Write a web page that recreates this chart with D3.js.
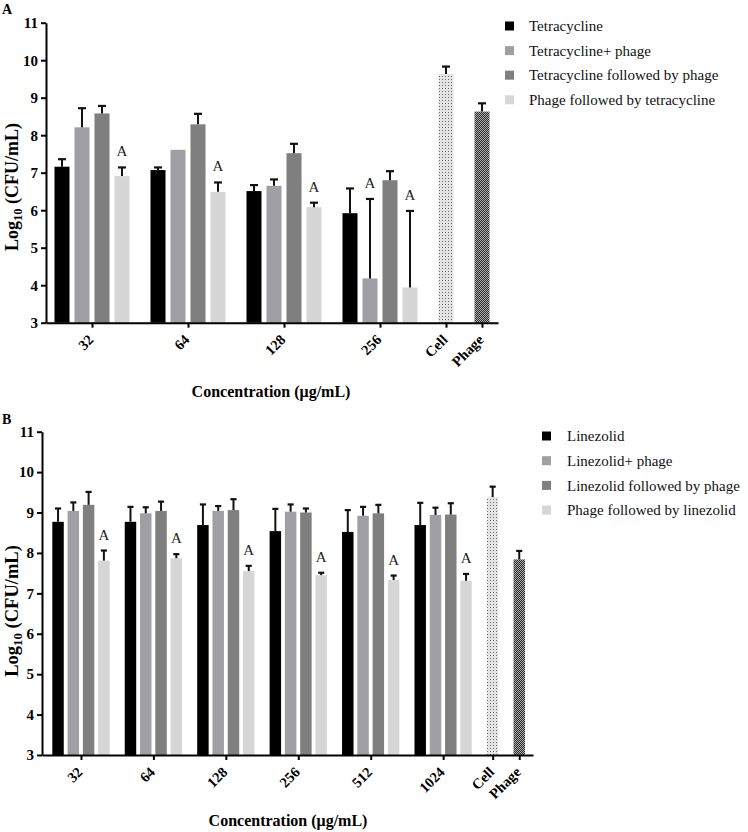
<!DOCTYPE html>
<html><head><meta charset="utf-8">
<script src="https://cdn.jsdelivr.net/npm/d3@7"></script>
<style>
body{margin:0;background:#fff}
svg{display:block}
text{font-family:"Liberation Serif","Times New Roman",serif}
</style>
</head><body>
<svg id="c" width="748" height="832"></svg>
<script>
// ---------- data ----------
const yTicks = [3,4,5,6,7,8,9,10,11];
const xTitle = "Concentration (\u03bcg/mL)";
const controls = ["Cell","Phage"];

// Panel A : tetracycline
const concA = ["32","64","128","256"];
const seriesA = ["Tetracycline","Tetracycline+ phage","Tetracycline followed by phage","Phage followed by tetracycline"];
const tetA            = [7.16, 7.07, 6.51, 5.92];
const tetAErr         = [0.20, 0.07, 0.16, 0.66];
const tetPhageA       = [8.21, 7.61, 6.65, 4.18];
const tetPhageAErr    = [0.51, 0.00, 0.17, 2.12];
const tetThenPhageA   = [8.58, 8.29, 7.52, 6.80];
const tetThenPhageAErr= [0.20, 0.28, 0.25, 0.24];
const phageThenTetA   = [6.91, 6.49, 6.08, 3.94];
const phageThenTetAErr= [0.23, 0.25, 0.12, 2.04];
const sigA = [["","","",""],["","","","A"],["","","",""],["A","A","A","A"]];
const controlA    = [9.63, 8.63];
const controlAErr = [0.20, 0.22];

// Panel B : linezolid
const concB = ["32","64","128","256","512","1024"];
const seriesB = ["Linezolid","Linezolid+ phage","Linezolid followed by phage","Phage followed by linezolid"];
const linB             = [8.77, 8.77, 8.69, 8.54, 8.52, 8.69];
const linBErr          = [0.33, 0.37, 0.51, 0.55, 0.54, 0.55];
const linPhageB        = [9.04, 8.98, 9.04, 9.02, 8.92, 8.94];
const linPhageBErr     = [0.21, 0.15, 0.12, 0.18, 0.22, 0.18];
const linThenPhageB    = [9.19, 9.04, 9.06, 9.00, 8.98, 8.95];
const linThenPhageBErr = [0.32, 0.23, 0.27, 0.10, 0.21, 0.28];
const phageThenLinB    = [7.81, 7.87, 7.55, 7.45, 7.33, 7.31];
const phageThenLinBErr = [0.25, 0.10, 0.13, 0.06, 0.11, 0.17];
const sigB = [["","","","","",""],["","","","","",""],["","","","","",""],["A","A","A","A","A","A"]];
const controlB    = [9.38, 7.84];
const controlBErr = [0.26, 0.21];

// ---------- drawing ----------
const colors = ["#000000","#a0a0a4","#7f7f7f","#d6d6d6"];
const svg = d3.select("#c");
const defs = svg.append("defs");
// dotted pattern (Cell)
const pc = defs.append("pattern").attr("id","dots").attr("patternUnits","userSpaceOnUse")
  .attr("width",3).attr("height",3);
pc.append("rect").attr("width",3).attr("height",3).attr("fill","#e4e4e4");
pc.append("rect").attr("x",1).attr("y",1).attr("width",1).attr("height",1).attr("fill","#6a6a6a");
// checker pattern (Phage)
const pp = defs.append("pattern").attr("id","check").attr("patternUnits","userSpaceOnUse")
  .attr("width",2).attr("height",2);
pp.append("rect").attr("width",2).attr("height",2).attr("fill","#2a2a2a");
pp.append("rect").attr("width",1).attr("height",1).attr("fill","#b0b0b0");
pp.append("rect").attr("x",1).attr("y",1).attr("width",1).attr("height",1).attr("fill","#b0b0b0");

function drawPanel(P, cfg){
  const g = svg.append("g");
  const nG = P.groups.length;
  const grpStep = 3 + cfg.gap;
  const barIdx = (gi, si) => gi*grpStep + si;
  const ctrlIdx = k => (nG-1)*grpStep + 3 + cfg.gap*(k+1);
  const maxIdx = ctrlIdx(P.controls.length-1);
  const x = d3.scaleLinear().domain([-cfg.padL, maxIdx + cfg.padR]).range([cfg.x0, cfg.x1]);
  const y = d3.scaleLinear().domain([3,11]).range([cfg.yBot, cfg.yTop]);
  const unit = x(1) - x(0);
  const bw = 0.75*unit, cw = 0.4*unit;

  const bars = [];
  P.series.forEach((s, si) => {
    s.values.forEach((v, gi) => bars.push({idx: barIdx(gi, si), v, e: s.errs[gi], fill: colors[si], sig: P.sig[si][gi]}));
  });
  P.controls.forEach((c, k) => bars.push({idx: ctrlIdx(k), v: P.ctrlVals[k], e: P.ctrlErrs[k], fill: k===0 ? "url(#dots)" : "url(#check)", sig: ""}));

  g.selectAll("rect.bar").data(bars).join("rect").attr("class","bar")
    .attr("x", d => x(d.idx) - bw/2).attr("width", bw)
    .attr("y", d => y(d.v)).attr("height", d => y(3) - y(d.v))
    .attr("fill", d => d.fill);

  const eb = bars.filter(d => d.e > 0);
  g.selectAll("line.ev").data(eb).join("line").attr("class","ev")
    .attr("x1", d => x(d.idx)).attr("x2", d => x(d.idx))
    .attr("y1", d => y(d.v)).attr("y2", d => y(d.v + d.e))
    .attr("stroke","#111").attr("stroke-width",2);
  g.selectAll("line.ec").data(eb).join("line").attr("class","ec")
    .attr("x1", d => x(d.idx) - cw/2).attr("x2", d => x(d.idx) + cw/2)
    .attr("y1", d => y(d.v + d.e)).attr("y2", d => y(d.v + d.e))
    .attr("stroke","#111").attr("stroke-width",2.2);

  g.selectAll("text.sig").data(bars.filter(d => d.sig)).join("text").attr("class","sig")
    .attr("x", d => x(d.idx)).attr("y", d => y(d.v + d.e) - 11)
    .attr("text-anchor","middle").attr("font-size",15).attr("fill","#222")
    .text(d => d.sig);

  // y axis
  const ya = g.append("g").attr("transform",`translate(${cfg.x0},0)`)
    .call(d3.axisLeft(y).tickValues(yTicks).tickSize(5).tickSizeOuter(0).tickPadding(3));
  ya.select(".domain").attr("stroke","#000").attr("stroke-width",2);
  ya.selectAll(".tick line").attr("stroke","#000").attr("stroke-width",2);
  ya.selectAll(".tick text").attr("font-family","Liberation Serif").attr("font-weight","bold")
    .attr("font-size",15).attr("fill","#000");

  // x axis
  const tickIdx = P.groups.map((_, gi) => gi*grpStep + 1.5).concat(P.controls.map((_, k) => ctrlIdx(k)));
  const tickLab = P.groups.concat(P.controls);
  const xa = g.append("g").attr("transform",`translate(0,${cfg.yBot})`)
    .call(d3.axisBottom(x).tickValues(tickIdx).tickFormat((d,i) => tickLab[i]).tickSize(5).tickSizeOuter(0));
  xa.select(".domain").attr("stroke","#000").attr("stroke-width",2);
  xa.selectAll(".tick line").attr("stroke","#000").attr("stroke-width",2);
  xa.selectAll(".tick text").attr("font-family","Liberation Serif").attr("font-weight","bold")
    .attr("font-size",14.5).attr("fill","#000")
    .attr("text-anchor","end").attr("dy",0).attr("y",0)
    .attr("transform","translate(2,18) rotate(-45)");

  // axis titles
  g.append("text").attr("x", cfg.xTitleX).attr("y", cfg.xTitleY).attr("text-anchor","middle")
    .attr("font-weight","bold").attr("font-size",16).text(xTitle);
  const yt = g.append("text").attr("transform",`translate(${cfg.yTitleX},${cfg.yTitleY}) rotate(-90)`)
    .attr("text-anchor","middle").attr("font-weight","bold").attr("font-size",cfg.yTitleSize);
  yt.append("tspan").text("Log");
  yt.append("tspan").attr("font-size", cfg.yTitleSize*0.7).attr("dy", 4).text("10");
  yt.append("tspan").attr("dy", -4).text(" (CFU/mL)");

  // legend
  const lg = g.append("g");
  P.names.forEach((n, i) => {
    const yy = cfg.legY0 + i*cfg.legDy;
    lg.append("rect").attr("x", cfg.legX).attr("y", yy - 4.5).attr("width",9).attr("height",9).attr("fill", colors[i]);
    lg.append("text").attr("x", cfg.legTX).attr("y", yy).attr("dy","0.35em").attr("font-size",15).attr("fill","#111").text(n);
  });

  // panel letter
  g.append("text").attr("x",2).attr("y",cfg.letterY).attr("font-family","Liberation Sans, Arial, sans-serif")
    .attr("font-weight","bold").attr("font-size",14).text(P.letter);
}

drawPanel({
  letter:"A", groups: concA, controls: controls, names: seriesA, sig: sigA,
  series: [{values: tetA, errs: tetAErr},{values: tetPhageA, errs: tetPhageAErr},
           {values: tetThenPhageA, errs: tetThenPhageAErr},{values: phageThenTetA, errs: phageThenTetAErr}],
  ctrlVals: controlA, ctrlErrs: controlAErr
}, {x0:46, x1:498, yTop:22.7, yBot:322.7, gap:1.8, padL:0.8, padR:0.8,
    xTitleX:271, xTitleY:397, yTitleX:18, yTitleY:187, yTitleSize:18,
    legX:505, legTX:529, legY0:26, legDy:24.6, letterY:14});

drawPanel({
  letter:"B", groups: concB, controls: controls, names: seriesB, sig: sigB,
  series: [{values: linB, errs: linBErr},{values: linPhageB, errs: linPhageBErr},
           {values: linThenPhageB, errs: linThenPhageBErr},{values: phageThenLinB, errs: phageThenLinBErr}],
  ctrlVals: controlB, ctrlErrs: controlBErr
}, {x0:42, x1:533, yTop:431.7, yBot:755, gap:1.74, padL:1.05, padR:0.9,
    xTitleX:288, xTitleY:826, yTitleX:18, yTitleY:611, yTitleSize:18.5,
    legX:542, legTX:567, legY0:436, legDy:24.7, letterY:424});
</script>
</body></html>
